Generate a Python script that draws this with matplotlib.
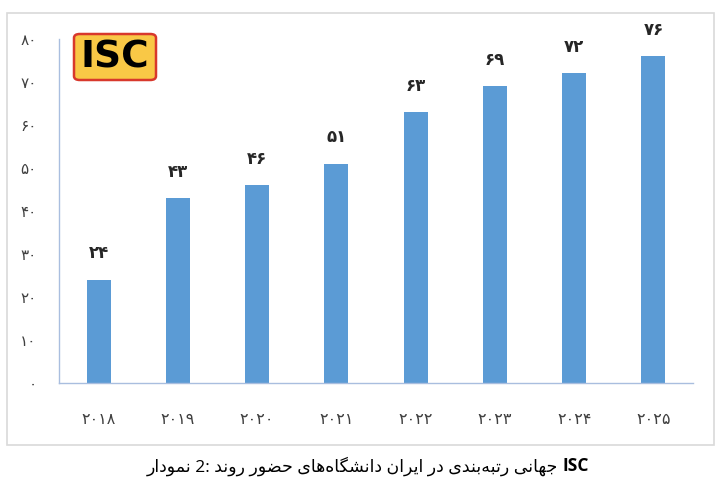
import matplotlib
matplotlib.use('Agg')
import matplotlib.pyplot as plt
from matplotlib.patches import FancyBboxPatch, Rectangle

# data
years = [2018, 2019, 2020, 2021, 2022, 2023, 2024, 2025]
values = [24, 43, 46, 51, 63, 69, 72, 76]
yticks = [0, 10, 20, 30, 40, 50, 60, 70, 80]
caption_words = ['نمودار', '2:', 'روند', 'حضور', 'دانشگاه\u200cهای', 'ایران', 'در', 'رتبه\u200cبندی', 'جهانی']
caption_tail = 'ISC'

fa = str.maketrans('0123456789', '۰۱۲۳۴۵۶۷۸۹')

def fa_num(n):
    return str(n).translate(fa)

# presentation forms: (isolated, final, initial, medial); right-joining letters only have two
FORMS = {
    'ا': ('\uFE8D', '\uFE8E'),
    'د': ('\uFEA9', '\uFEAA'),
    'ر': ('\uFEAD', '\uFEAE'),
    'و': ('\uFEED', '\uFEEE'),
    'ب': ('\uFE8F', '\uFE90', '\uFE91', '\uFE92'),
    'ت': ('\uFE95', '\uFE96', '\uFE97', '\uFE98'),
    'ج': ('\uFE9D', '\uFE9E', '\uFE9F', '\uFEA0'),
    'ح': ('\uFEA1', '\uFEA2', '\uFEA3', '\uFEA4'),
    'ش': ('\uFEB5', '\uFEB6', '\uFEB7', '\uFEB8'),
    'ض': ('\uFEBD', '\uFEBE', '\uFEBF', '\uFEC0'),
    'م': ('\uFEE1', '\uFEE2', '\uFEE3', '\uFEE4'),
    'ن': ('\uFEE5', '\uFEE6', '\uFEE7', '\uFEE8'),
    'ه': ('\uFEE9', '\uFEEA', '\uFEEB', '\uFEEC'),
    'گ': ('\uFB92', '\uFB93', '\uFB94', '\uFB95'),
    'ی': ('\uFBFC', '\uFBFD', '\uFBFE', '\uFBFF'),
}


def shape(word):
    if word.isascii():
        return word
    out = []
    for i, c in enumerate(word):
        if c not in FORMS:
            if c != '\u200c':
                out.append(c)
            continue
        prev = word[i - 1] if i > 0 else ''
        nxt = word[i + 1] if i + 1 < len(word) else ''
        jp = prev in FORMS and len(FORMS[prev]) == 4
        jn = len(FORMS[c]) == 4 and nxt in FORMS
        f = FORMS[c]
        if jp and jn:
            out.append(f[3])
        elif jp:
            out.append(f[1])
        elif jn:
            out.append(f[2])
        else:
            out.append(f[0])
    return ''.join(reversed(out))


W, H = 720, 484
fig = plt.figure(figsize=(7.2, 4.84), dpi=100)
fig.patch.set_facecolor('white')

# light frame around chart
fig.patches.append(Rectangle((7 / W, 1 - 445 / H), 707 / W, 432 / H, transform=fig.transFigure,
                             fill=False, edgecolor='#D9D9D9', linewidth=1.2))

ax = fig.add_axes([59 / W, 1 - 383 / H, 634 / W, 344 / H])
x = list(range(len(years)))
bars = ax.bar(x, values, width=0.3, color='#5B9BD5')
ax.set_xlim(-0.5, len(years) - 0.5)
ax.set_ylim(0, 80)

ax.set_yticks(yticks)
ax.set_yticklabels([fa_num(t) for t in yticks])
ax.set_xticks(x)
ax.set_xticklabels([fa_num(y) for y in years])
ax.tick_params(axis='y', length=0, pad=16, labelsize=11, labelcolor='#404040')
ax.tick_params(axis='x', length=0, pad=21, labelsize=11.5, labelcolor='#404040')

for s in ['top', 'right']:
    ax.spines[s].set_visible(False)
for s in ['left', 'bottom']:
    ax.spines[s].set_color('#A9BEDF')
    ax.spines[s].set_linewidth(1.0)

for xi, v in zip(x, values):
    ax.annotate(fa_num(v), (xi, v), xytext=(0, 19), textcoords='offset points',
                ha='center', va='center', fontsize=12, fontweight='bold', color='#262626')

# ISC logo
fig.patches.append(FancyBboxPatch((74 / W, 1 - 80 / H), 82 / W, 46 / H, transform=fig.transFigure,
                                  boxstyle='round,pad=0,rounding_size=0.008',
                                  facecolor='#F9C846', edgecolor='#D8382C', linewidth=1.8))
fig.text(115 / W, 1 - 57 / H, 'ISC', ha='center', va='center', fontsize=27,
         fontweight='heavy', color='black', family='DejaVu Sans')

# caption
cap = fig.text(147 / W, 1 - 466 / H, ' '.join(shape(w) for w in caption_words) + ' ',
               ha='left', va='center', fontsize=12.5, color='black',
               family=['Open Sans', 'DejaVu Sans'])
fig.canvas.draw()
ax.annotate(caption_tail, xy=(1, 0.5), xycoords=cap, ha='left', va='center',
            fontsize=12.5, fontweight='bold', color='black', family=['Open Sans', 'DejaVu Sans'])

fig.savefig('out.png', dpi=100)
